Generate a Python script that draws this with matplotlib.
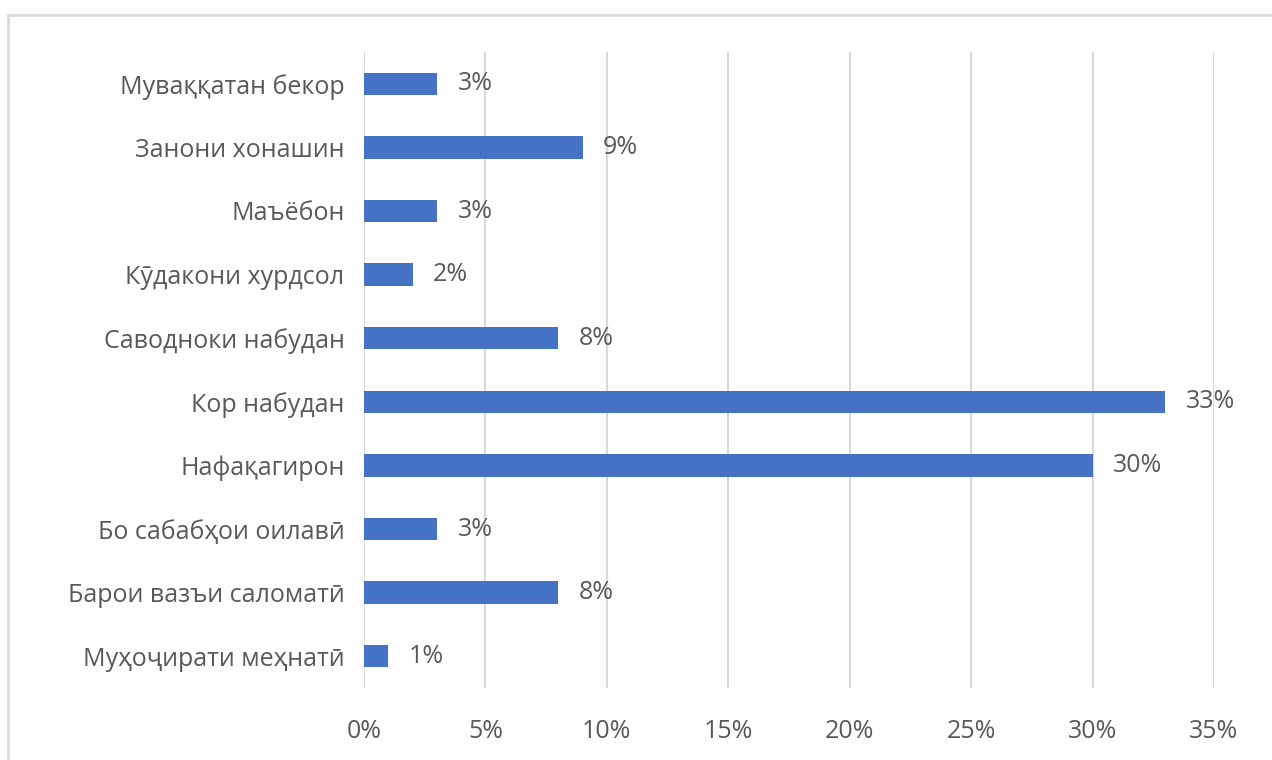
import matplotlib.pyplot as plt
from matplotlib.patches import Rectangle
from matplotlib.ticker import FuncFormatter, MultipleLocator

# categories from top to bottom
categories = [
    "Муваққатан бекор",
    "Занони хонашин",
    "Маъёбон",
    "Кӯдакони хурдсол",
    "Саводноки набудан",
    "Кор набудан",
    "Нафақагирон",
    "Бо сабабҳои оилавӣ",
    "Барои вазъи саломатӣ",
    "Муҳоҷирати меҳнатӣ",
]
values = [3, 9, 3, 2, 8, 33, 30, 3, 8, 1]

plt.rcParams['font.family'] = ['Open Sans', 'DejaVu Sans']
text_color = "#595959"

fig = plt.figure(figsize=(12.72, 7.6), dpi=100)
ax = fig.add_axes([364 / 1272, 1 - 688 / 760, 850 / 1272, 636 / 760])

# outer chart frame (cut off on the right and bottom)
fig.patches.append(Rectangle((8 / 1272, -0.05), 1.1, 1 - 15 / 760 + 0.05,
                             transform=fig.transFigure, fill=False,
                             edgecolor="#d9d9d9", linewidth=2, zorder=0))

y = list(range(len(categories)))
ax.barh(y, values, height=0.35, color="#4472C4", zorder=3)
for yi, v in zip(y, values):
    ax.text(v + 0.85, yi, f"{v}%", va="center", ha="left",
            fontsize=18, color=text_color)

ax.set_yticks(y)
ax.set_yticklabels(categories, fontsize=18, color=text_color)
ax.set_ylim(len(categories) - 0.5, -0.5)
ax.set_xlim(0, 35)
ax.xaxis.set_major_locator(MultipleLocator(5))
ax.xaxis.set_major_formatter(FuncFormatter(lambda x, p: f"{x:.0f}%"))
ax.tick_params(axis="x", labelsize=18, colors=text_color, length=0, pad=22)
ax.tick_params(axis="y", length=0, pad=14)
ax.grid(axis="x", color="#d9d9d9", linewidth=1.5, zorder=0)
for s in ax.spines.values():
    s.set_visible(False)

fig.savefig("out.png", dpi=100)
